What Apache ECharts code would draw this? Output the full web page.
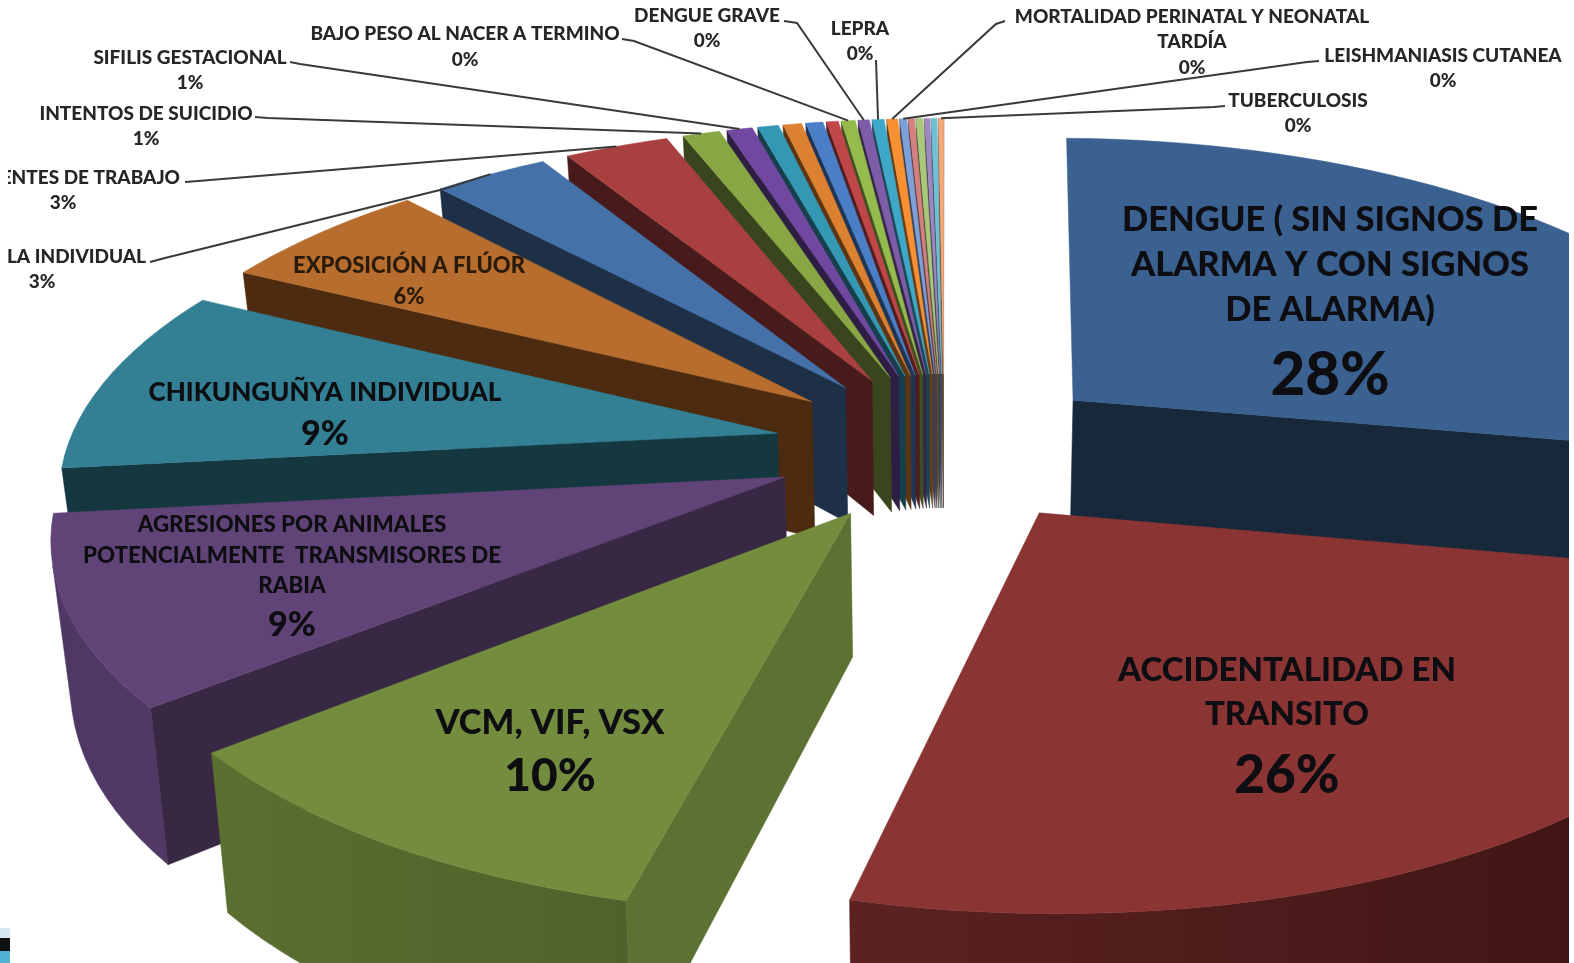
<!DOCTYPE html>
<html lang="es">
<head>
    <meta charset="UTF-8">
    <title>Eventos</title>
    <style>
        html, body { margin: 0; padding: 0; background: #fff; }
        #container { width: 1574px; height: 963px; }
    </style>
</head>
<body>
<div id="container"></div>
<script src="https://cdn.jsdelivr.net/npm/echarts@6/dist/echarts.min.js"></script>
<script type="text/javascript">
    // datos
    var names = [
        'DENGUE ( SIN SIGNOS DE\nALARMA Y CON SIGNOS\nDE ALARMA)',
        'ACCIDENTALIDAD EN\nTRANSITO',
        'VCM, VIF, VSX',
        'AGRESIONES POR ANIMALES\nPOTENCIALMENTE  TRANSMISORES DE\nRABIA',
        'CHIKUNGUÑYA INDIVIDUAL',
        'EXPOSICIÓN A FLÚOR',
        'VARICELA INDIVIDUAL',
        'ACCIDENTES DE TRABAJO',
        'INTENTOS DE SUICIDIO',
        'SIFILIS GESTACIONAL',
        '', '', '', '',
        'BAJO PESO AL NACER A TERMINO',
        'DENGUE GRAVE',
        'LEPRA',
        'MORTALIDAD PERINATAL Y NEONATAL\nTARDÍA',
        'LEISHMANIASIS CUTANEA',
        '', '', '', '',
        'TUBERCULOSIS'
    ];
    var values = [27.67, 25.89, 10.14, 9.28, 9.3, 5.76, 3.09, 2.81, 1.0, 0.69, 0.56, 0.5, 0.46, 0.32, 0.37, 0.3, 0.32, 0.29, 0.19, 0.16, 0.19, 0.14, 0.16, 0.14];

    var topColors = ['#3a618f', '#8a3434', '#738c3e', '#604477', '#338095', '#b66d2e',
        '#4472a8', '#a84040', '#88a644', '#7048a0', '#3497b4', '#dc8130',
        '#4a7fc8', '#c0464a', '#94bb4c', '#7f5ca8', '#3fa8c8', '#f79032',
        '#7ea0d8', '#d48080', '#aac87a', '#9f88c0', '#70c0d4', '#f5a878'];
    var wallColors = ['#17283a', '#3c1414', '#5d7232', '#382843', '#153740', '#4c2b11'];
    var outerColors = [['#1c3048', '#1c3048'], ['#5c2222', '#3a1212'], ['#5a6f30', '#4f622b'], ['#4e3763', '#523a66'], ['#153740', '#153740'], ['#4c2b11', '#4c2b11']];

    // donde va el texto de cada porcion: centro x, y de la 1a linea, alto de linea, fuente, y fuente del %
    var labelLayout = [
        {i: 0, x: 1330, y: 218, lh: 45, size: 34.5, py: 373, psize: 60},
        {i: 1, x: 1287, y: 669, lh: 44, size: 33, py: 773, psize: 53},
        {i: 2, x: 550, y: 721, size: 34.5, py: 774, psize: 46},
        {i: 3, x: 292, y: 524, lh: 30.5, size: 22.3, py: 623, psize: 34},
        {i: 4, x: 325, y: 391, size: 26, py: 432, psize: 34},
        {i: 5, x: 409, y: 265, size: 22, py: 296, psize: 22, color: '#2a1a0a'},
        {i: 6, x: 42, y: 256, size: 19, py: 281, psize: 19, right: 146, line: [[150, 262], [165, 258], [444, 189]]},
        {i: 7, x: 63, y: 177, size: 19, py: 202, psize: 19, right: 180, line: [[185, 182], [198, 181]]},
        {i: 8, x: 146, y: 113, size: 19, py: 138, psize: 19, line: [[255, 117], [268, 118]]},
        {i: 9, x: 190, y: 57, size: 19, py: 82, psize: 19, line: [[290, 62], [300, 64]]},
        {i: 14, x: 465, y: 33, size: 19, py: 59, psize: 19, line: [[622, 39], [634, 41]]},
        {i: 15, x: 707, y: 15, size: 19, py: 40, psize: 19, line: [[784, 21], [797, 23]]},
        {i: 16, x: 860, y: 28, size: 19, py: 53, psize: 19, line: [[876, 60]]},
        {i: 17, x: 1192, y: 16, lh: 25, size: 19, py: 67, psize: 19, line: [[1005, 21], [996, 24]]},
        {i: 18, x: 1443, y: 55, size: 19, py: 80, psize: 19, line: [[1319, 61], [1307, 62]]},
        {i: 23, x: 1298, y: 100, size: 19, py: 125, psize: 19, line: [[1225, 106], [1214, 107]]}
    ];

    var startAngle = Math.PI / 180;
    var angles = [], acc = 0;
    values.forEach(function (v) {
        var a0 = startAngle + acc / 100 * Math.PI * 2;
        acc += v;
        angles.push([a0, startAngle + acc / 100 * Math.PI * 2]);
    });

    // vista en perspectiva del pastel
    var cx = 944, cy = 447, sx = 710, sy = 316, persp = 0.155, explode = 0.24, thick = 139, conv = 0.978;

    function ptTop(i, ang, r) {
        var mid = (angles[i][0] + angles[i][1]) / 2;
        var u = explode * Math.sin(mid) + r * Math.sin(ang);
        var v = explode * Math.cos(mid) + r * Math.cos(ang);
        var w = 1 + persp * v;
        return [cx + sx * u / w, cy - sy * v / w, w];
    }
    function ptBottom(p) {
        return [cx + (p[0] - cx) * conv, p[1] + thick / p[2]];
    }
    function cross(a, b, c) {
        return (b[0] - a[0]) * (c[1] - b[1]) - (b[1] - a[1]) * (c[0] - b[0]);
    }
    function darken(hex, k) {
        var n = parseInt(hex.slice(1), 16);
        return 'rgb(' + Math.round((n >> 16) * k) + ',' + Math.round(((n >> 8) & 255) * k) + ',' + Math.round((n & 255) * k) + ')';
    }
    function poly(points, fill, z2) {
        return {type: 'polygon', z2: z2, silent: true, shape: {points: points.map(function (p) { return [p[0], p[1]]; })},
            style: {fill: fill, stroke: fill, lineWidth: 0.5}};
    }

    function renderSlice(params, api) {
        var i = api.value(0);
        var z2 = params.dataIndex * 4;
        var a0 = angles[i][0], a1 = angles[i][1];
        var top = topColors[i];
        var wall = i < 6 ? wallColors[i] : darken(top, 0.42);
        var outer = i < 6 ? outerColors[i] : [wall, wall];

        var apex = ptTop(i, a0, 0);
        var arc = [], n = Math.max(2, Math.ceil((a1 - a0) / 0.04));
        for (var k = 0; k <= n; k++) {
            arc.push(ptTop(i, a0 + (a1 - a0) * k / n, 1));
        }
        var first = arc[0], last = arc[n];
        var children = [];

        // solo los tramos del borde exterior que miran al frente
        var seen = [];
        for (k = 0; k < n; k++) {
            if (cross(arc[k], arc[k + 1], ptBottom(arc[k + 1])) < 0) {
                if (!seen.length) { seen.push(arc[k]); }
                seen.push(arc[k + 1]);
            }
        }
        if (seen.length) {
            children.push(poly(seen.concat(seen.map(ptBottom).reverse()), new echarts.graphic.LinearGradient(0, 0, 1, 0, [
                {offset: 0, color: outer[0]}, {offset: 1, color: outer[1]}
            ]), z2));
        }
        if (a0 > Math.PI / 2 && cross(apex, first, ptBottom(first)) < 0) {
            children.push(poly([apex, first, ptBottom(first), ptBottom(apex)], wall, z2 + 1));
        }
        if (cross(apex, last, ptBottom(last)) > 0) {
            children.push(poly([apex, last, ptBottom(last), ptBottom(apex)], wall, z2 + 1));
        }
        children.push(poly([apex].concat(arc), top, z2 + 2));
        return {type: 'group', children: children};
    }

    // las porciones del fondo se pintan primero
    var drawOrder = values.map(function (v, i) { return i; }).sort(function (p, q) {
        return Math.cos((angles[q][0] + angles[q][1]) / 2) - Math.cos((angles[p][0] + angles[p][1]) / 2);
    });

    var fontName = 'Lato, "Open Sans", sans-serif';
    function textEl(str, x, y, size, color, align) {
        return {type: 'text', z: 20, silent: true, x: x, y: y + size * 0.05,
            style: {text: str, fill: color, font: '900 ' + size + 'px ' + fontName, align: align || 'center', verticalAlign: 'middle'}};
    }

    var elements = [];
    labelLayout.forEach(function (l) {
        var color = l.color || (l.size > 20 ? '#0d0d12' : '#262626');
        names[l.i].split('\n').forEach(function (s, k) {
            var lineY = l.y + k * (l.lh || 0);
            if (l.right) {
                elements.push(textEl(s, l.right, lineY, l.size, color, 'right'));
            } else {
                elements.push(textEl(s, l.x, lineY, l.size, color));
            }
        });
        elements.push(textEl(Math.round(values[l.i]) + '%', l.x, l.py, l.psize, color));
        if (l.line) {
            var tip = ptTop(l.i, (angles[l.i][0] + angles[l.i][1]) / 2, 1);
            elements.push({type: 'polyline', z: 15, silent: true,
                shape: {points: l.line.concat([[tip[0], tip[1]]])},
                style: {stroke: '#3a3a3a', lineWidth: 2, fill: null}});
        }
    });
    // recortes de la imagen original
    elements.push({type: 'rect', z: 30, silent: true, shape: {x: 0, y: 150, width: 8, height: 150}, style: {fill: '#fff'}});
    elements.push({type: 'rect', z: 30, silent: true, shape: {x: 1569, y: 0, width: 5, height: 963}, style: {fill: '#fff'}});
    elements.push({type: 'rect', z: 30, silent: true, shape: {x: 0, y: 928, width: 10, height: 10}, style: {fill: '#d5e8f2'}});
    elements.push({type: 'rect', z: 30, silent: true, shape: {x: 0, y: 938, width: 10, height: 13}, style: {fill: '#111'}});
    elements.push({type: 'rect', z: 30, silent: true, shape: {x: 0, y: 951, width: 10, height: 12}, style: {fill: '#4fb2d2'}});

    var chart = echarts.init(document.getElementById('container'));
    chart.setOption({
        animation: false,
        backgroundColor: '#ffffff',
        graphic: {elements: elements},
        series: [{
            type: 'custom',
            coordinateSystem: 'none',
            renderItem: renderSlice,
            data: drawOrder.map(function (i) { return [i]; }),
            clip: false
        }]
    });
</script>
</body>
</html>
